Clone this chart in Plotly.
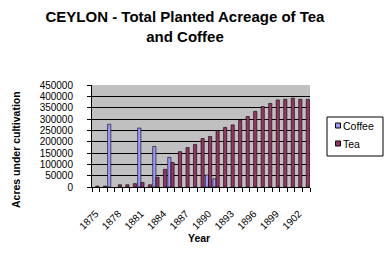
import plotly.graph_objects as go

years = list(range(1875, 1904))
coffee = [None, None, 277000, None, None, None, 260000, None, 179000, None,
          131000, None, None, None, None, 53000, 36000, None, None, None,
          None, None, None, None, None, None, None, None, None]
tea = [4000, 4000, None, 10000, 10000, 15000, 20000, 10000, 43000, 78000,
       108000, 156000, 174000, 188000, 214000, 223000, 249000, 263000, 274000, 294000,
       311000, 334000, 355000, 369000, 384000, 387000, 392000, 387000, 387000]
tick_years = list(range(1875, 1903, 3))
y_ticks = list(range(0, 450001, 50000))

W, H = 387, 262
L, R, T, B = 92, 310, 85, 187  # plot area in pixels

def px(x):
    return (x - L) / (R - L)

def py(y):
    return (B - y) / (B - T)

FONT = "Liberation Sans, Arial, sans-serif"

fig = go.Figure()
fig.add_trace(go.Bar(x=years, y=coffee, name="Coffee",
                     marker=dict(color="#9999FF", line=dict(color="#000000", width=0.6))))
fig.add_trace(go.Bar(x=years, y=tea, name="Tea",
                     marker=dict(color="#993366", line=dict(color="#000000", width=0.6))))

fig.update_layout(
    width=W, height=H,
    margin=dict(l=L, r=W - R, t=T, b=H - B, pad=0),
    paper_bgcolor="#FFFFFF",
    plot_bgcolor="#C0C0C0",
    barmode="group", bargap=0.15, bargroupgap=0,
    showlegend=False,
    font=dict(family=FONT, size=10, color="#000000"),
    title=dict(text="<b>CEYLON - Total Planted Acreage of Tea<br>and Coffee</b>",
               x=185 / W, xref="container", xanchor="center",
               y=1 - 22 / H, yref="container", yanchor="middle",
               font=dict(family=FONT, size=15, color="#000000")),
)

fig.update_xaxes(
    type="linear", range=[1874.5, 1903.5], automargin=False,
    tickvals=tick_years, ticktext=[str(v) for v in tick_years],
    tickangle=-45, ticks="", showgrid=False, zeroline=False,
    showline=True, linecolor="#000000", linewidth=1,
    ticklabelstandoff=16,
    tickfont=dict(family=FONT, size=10, color="#000000"),
    minor=dict(tickvals=[y - 0.5 for y in years] + [1903.5], ticks="outside",
               ticklen=4, tickcolor="#000000", tickwidth=1, showgrid=False),
)
fig.update_yaxes(
    range=[0, 450000], tickvals=y_ticks, tickformat="d", automargin=False,
    ticks="outside", ticklen=4, tickcolor="#000000", tickwidth=1,
    showgrid=True, gridcolor="#000000", gridwidth=1, zeroline=False,
    showline=True, linecolor="#000000", linewidth=1,
    ticklabelstandoff=12,
    tickfont=dict(family=FONT, size=10, color="#000000"),
)

# axis titles
fig.add_annotation(text="<b>Year</b>", xref="paper", yref="paper",
                   x=px(199), y=py(238), showarrow=False,
                   xanchor="center", yanchor="middle",
                   font=dict(family=FONT, size=10.5, color="#000000"))
fig.add_annotation(text="<b>Acres under cultivation</b>", xref="paper", yref="paper",
                   x=px(16), y=py(150), showarrow=False, textangle=-90,
                   xanchor="center", yanchor="middle",
                   font=dict(family=FONT, size=10.5, color="#000000"))

# legend (manual, Excel style)
fig.add_shape(type="rect", xref="paper", yref="paper",
              x0=px(327), x1=px(383), y0=py(156), y1=py(117),
              line=dict(color="#000000", width=1), fillcolor="#FFFFFF")
for name, color, cy in [("Coffee", "#9999FF", 125.5), ("Tea", "#993366", 143.5)]:
    fig.add_shape(type="rect", xref="paper", yref="paper",
                  x0=px(335.5), x1=px(340.5), y0=py(cy + 2.5), y1=py(cy - 2.5),
                  line=dict(color="#000000", width=1), fillcolor=color)
    fig.add_annotation(text=name, xref="paper", yref="paper",
                       x=px(341), y=py(cy), xanchor="left", yanchor="middle",
                       showarrow=False, font=dict(family=FONT, size=10.5, color="#000000"))

fig.write_html("out.html")
